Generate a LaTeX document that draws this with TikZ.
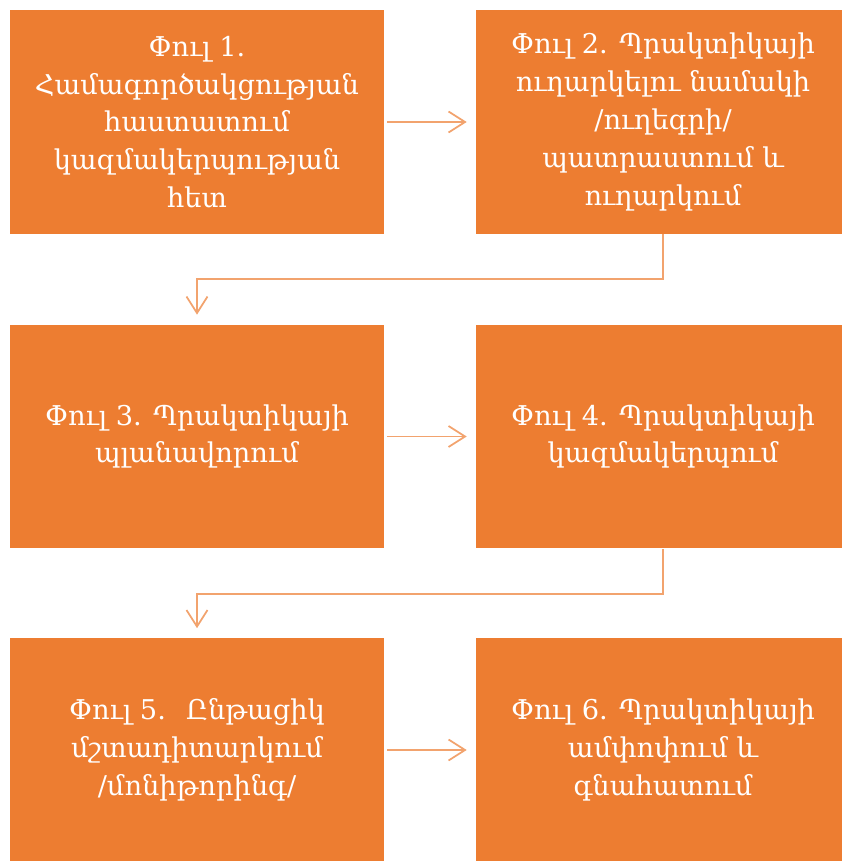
\documentclass[tikz,border=0pt]{standalone}
\usepackage{fontspec}
\setmainfont{DejaVu Serif}
\usetikzlibrary{positioning,calc,arrows.meta}

\definecolor{boxorange}{HTML}{ED7D31}
\definecolor{linkorange}{HTML}{F2A36E}

\begin{document}
\begin{tikzpicture}[
    x=0.02cm, y=-0.02cm,
    phase/.style={rectangle, fill=boxorange, minimum width=7.5cm, minimum height=4.48cm,
        inner sep=0pt, align=center, text=white,
        font=\fontsize{15.5}{21.5}\selectfont},
    link/.style={draw=linkorange, line width=1pt,
        -{Straight Barb[length=0.33cm, width=0.42cm, line width=1pt]}}
]

\useasboundingbox (0,0) rectangle (841,861);

% Phases
\node[phase] (p1) at (197,122) {Փուլ 1.\\Համագործակցության\\հաստատում\\կազմակերպության\\հետ};
\node[phase] (p2) at (663,122) {Փուլ 2. Պրակտիկայի\\ուղարկելու նամակի\\/ուղեգրի/\\պատրաստում և\\ուղարկում};
\node[phase] (p3) at (197,436.5) {Փուլ 3. Պրակտիկայի\\պլանավորում};
\node[phase] (p4) at (663,436.5) {Փուլ 4. Պրակտիկայի\\կազմակերպում};
\node[phase] (p5) at (197,750) {Փուլ 5.~ Ընթացիկ\\մշտադիտարկում\\/մոնիթորինգ/};
\node[phase] (p6) at (663,750) {Փուլ 6. Պրակտիկայի\\ամփոփում և\\գնահատում};

% Links in a row
\draw[link, shorten <=0.05cm, shorten >=0.17cm] (p1) -- (p2);
\draw[link, shorten <=0.05cm, shorten >=0.17cm] (p3) -- (p4);
\draw[link, shorten <=0.05cm, shorten >=0.17cm] (p5) -- (p6);

% Links to the next row
\draw[link, shorten >=0.19cm] (p2.south) -- ++(0,45) -| (p3.north);
\draw[link, shorten >=0.19cm] (p4.south) -- ++(0,45) -| (p5.north);

\end{tikzpicture}
\end{document}
